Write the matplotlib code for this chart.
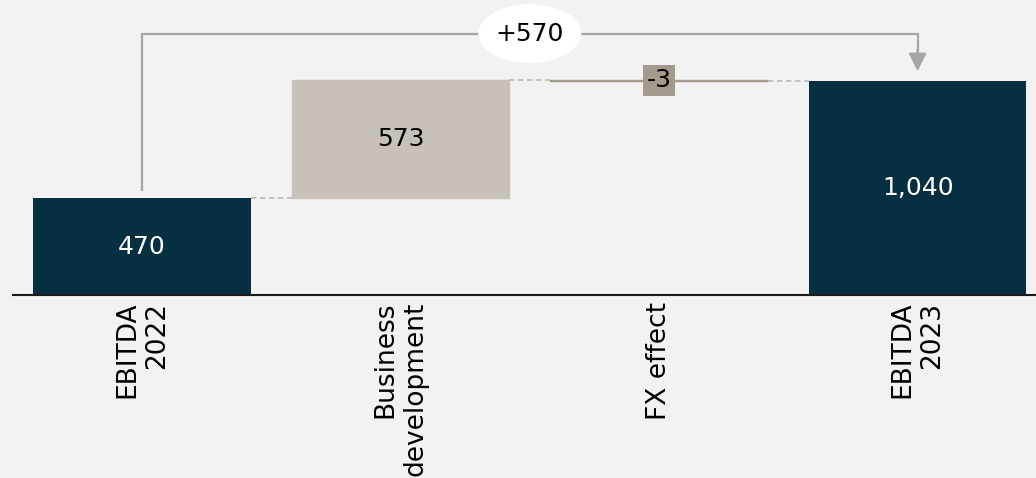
import matplotlib.pyplot as plt
from matplotlib.patches import Ellipse

# data
categories = ['EBITDA\n2022', 'Business\ndevelopment', 'FX effect', 'EBITDA\n2023']
start_value = 470
changes = [573, -3]
end_value = 1040
total_change = end_value - start_value

dark = '#072f42'
beige = '#c8c1ba'
taupe = '#a39a8e'
arrow_grey = '#a6a6a6'
dash_grey = '#bfbfbf'
bg = '#f2f2f2'

plt.rcParams['font.family'] = ['DejaVu Sans']

fig = plt.figure(figsize=(10.36, 4.78), dpi=100, facecolor=bg)
ax = fig.add_axes([12.7 / 1036, 183 / 478, 1 - 12.7 / 1036, 295 / 478])
ax.set_facecolor(bg)
ax.set_xlim(-0.5, 3.458)
ax.set_ylim(0, 1431)

w = 0.84
x = list(range(len(categories)))

# start bar
ax.bar(x[0], start_value, width=w, color=dark)
ax.text(x[0], start_value / 2, f'{start_value:,}', ha='center', va='center',
        fontsize=18, color='white')

# step bars
level = start_value
step_colors = [beige, taupe]
for i, (c, col) in enumerate(zip(changes, step_colors), start=1):
    ax.plot([x[i - 1] + w / 2, x[i] - w / 2], [level, level], color=dash_grey,
            lw=1.3, ls=(0, (3, 2)))
    ax.bar(x[i], c, bottom=level, width=w, color=col, edgecolor=col, linewidth=1)
    if abs(c) > 50:
        ax.text(x[i], level + c / 2, f'{c:,}', ha='center', va='center',
                fontsize=18, color='black')
    else:
        ax.text(x[i], level + c / 2, f'{c:,}', ha='center', va='center',
                fontsize=18, color='black',
                bbox=dict(boxstyle='square,pad=0.14', fc=col, ec='none'))
    level += c

# end bar
ax.plot([x[2] + w / 2, x[3] - w / 2], [level, level], color=dash_grey,
        lw=1.3, ls=(0, (3, 2)))
ax.bar(x[3], end_value, width=w, color=dark)
ax.text(x[3], end_value / 2, f'{end_value:,}', ha='center', va='center',
        fontsize=18, color='white')

# bracket arrow with total change
top_y = max(start_value + changes[0], end_value) + 225
ax.plot([x[0], x[0], x[3], x[3]],
        [start_value + 40, top_y, top_y, end_value + 150],
        color=arrow_grey, lw=1.6, solid_joinstyle='miter')
ax.annotate('', xy=(x[3], end_value + 46), xytext=(x[3], end_value + 150),
            arrowprops=dict(arrowstyle='-|>,head_length=0.6,head_width=0.3',
                            color=arrow_grey, lw=1.6, mutation_scale=18,
                            shrinkA=0, shrinkB=0))
mid = (x[0] + x[3]) / 2
ax.add_patch(Ellipse((mid, top_y), width=0.398, height=286, fc='white',
                     ec='none', zorder=3))
ax.text(mid, top_y, f'+{total_change:,}', ha='center', va='center',
        fontsize=18, color='black', zorder=4)

# axes styling
for s in ['top', 'left', 'right']:
    ax.spines[s].set_visible(False)
ax.spines['bottom'].set_linewidth(1.5)
ax.spines['bottom'].set_color('#1a1a1a')
ax.set_yticks([])
ax.set_xticks(x)
ax.set_xticklabels(categories, rotation=90, fontsize=19, ha='center', va='top',
                   multialignment='right')
ax.tick_params(axis='x', length=0, pad=5)

fig.savefig('out.png', dpi=100, facecolor=bg)
